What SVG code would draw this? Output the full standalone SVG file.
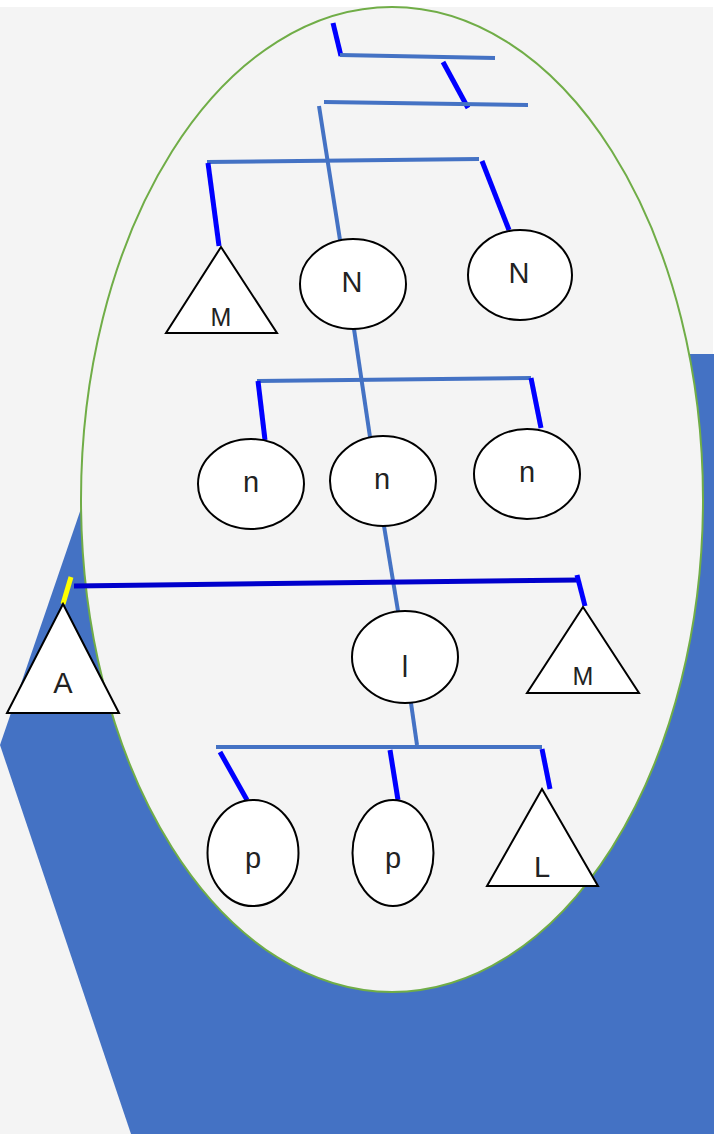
<svg xmlns="http://www.w3.org/2000/svg" width="714" height="1134" viewBox="0 0 714 1134">
<style>
.lb{stroke:#4472c4;stroke-width:4;fill:none}
.db{stroke:#0000ff;stroke-width:5;fill:none}
.node{fill:#ffffff;stroke:#000000;stroke-width:2}
.t{font-family:"Liberation Sans",Arial,sans-serif;font-size:29px;fill:#222222;text-anchor:middle}
.s{font-size:25px}
</style>
<rect x="0" y="0" width="714" height="1134" fill="#ffffff"/>
<rect x="0" y="7" width="713" height="1127" fill="#f4f4f4"/>
<polygon points="0,745 86,494 400,354 714,354 714,1134 131,1134" fill="#4472c4"/>
<ellipse cx="392" cy="499.5" rx="311" ry="492.5" fill="#f4f4f4" stroke="#70ad47" stroke-width="2"/>
<g id="connectors">
<line class="db" x1="333" y1="23" x2="341" y2="56"/>
<line class="lb" x1="340" y1="55" x2="495" y2="58"/>
<line class="db" x1="443" y1="62" x2="468" y2="108"/>
<line class="lb" x1="324" y1="102" x2="528" y2="105"/>
<line class="lb" x1="319" y1="106" x2="340" y2="240"/>
<line class="lb" x1="207" y1="162" x2="479" y2="159"/>
<line class="db" x1="208" y1="163" x2="219" y2="246"/>
<line class="db" x1="482" y1="161" x2="509" y2="230"/>
<line class="lb" x1="354" y1="329" x2="370" y2="437"/>
<line class="lb" x1="257" y1="381" x2="531" y2="378"/>
<line class="db" x1="258" y1="381" x2="265" y2="440"/>
<line class="db" x1="531" y1="378" x2="541" y2="428"/>
<line class="lb" x1="384" y1="526" x2="398" y2="611"/>
<line stroke="#0000cc" stroke-width="5" x1="74" y1="586" x2="578" y2="580"/>
<line stroke="#ffff00" stroke-width="5" x1="71" y1="577" x2="63" y2="604"/>
<line class="db" x1="577" y1="575" x2="585" y2="606"/>
<line class="lb" x1="411" y1="703" x2="417" y2="745"/>
<line class="lb" x1="216" y1="747" x2="542" y2="747"/>
<line class="db" x1="220" y1="752" x2="247" y2="800"/>
<line class="db" x1="390" y1="750" x2="398" y2="800"/>
<line class="db" x1="542" y1="749" x2="550" y2="789"/>
</g>
<g id="M1"><polygon class="node" points="221,247 166,333 277,333"/><text class="t s" x="221" y="326">M</text></g>
<g id="N1"><ellipse class="node" cx="353" cy="284" rx="53" ry="45"/><text class="t" x="352" y="292">N</text></g>
<g id="N2"><ellipse class="node" cx="520" cy="275" rx="52" ry="45"/><text class="t" x="519" y="283">N</text></g>
<g id="n1"><ellipse class="node" cx="251" cy="484" rx="53" ry="45"/><text class="t" x="251" y="492">n</text></g>
<g id="n2"><ellipse class="node" cx="383" cy="481" rx="53" ry="45"/><text class="t" x="382" y="489">n</text></g>
<g id="n3"><ellipse class="node" cx="527" cy="474" rx="53" ry="45"/><text class="t" x="527" y="482">n</text></g>
<g id="A"><polygon class="node" points="63,604 7,713 119,713"/><text class="t" x="63" y="693">A</text></g>
<g id="l"><ellipse class="node" cx="405" cy="657" rx="53" ry="46"/><text class="t" x="405" y="677">l</text></g>
<g id="M2"><polygon class="node" points="583,607 527,693 639,693"/><text class="t s" x="583" y="685">M</text></g>
<g id="p1"><ellipse class="node" cx="253" cy="853" rx="45.5" ry="53"/><text class="t" x="253" y="868">p</text></g>
<g id="p2"><ellipse class="node" cx="393" cy="853" rx="40.5" ry="53"/><text class="t" x="393" y="868">p</text></g>
<g id="L"><polygon class="node" points="542,789 487,886 598,886"/><text class="t" x="542" y="877">L</text></g>
</svg>
